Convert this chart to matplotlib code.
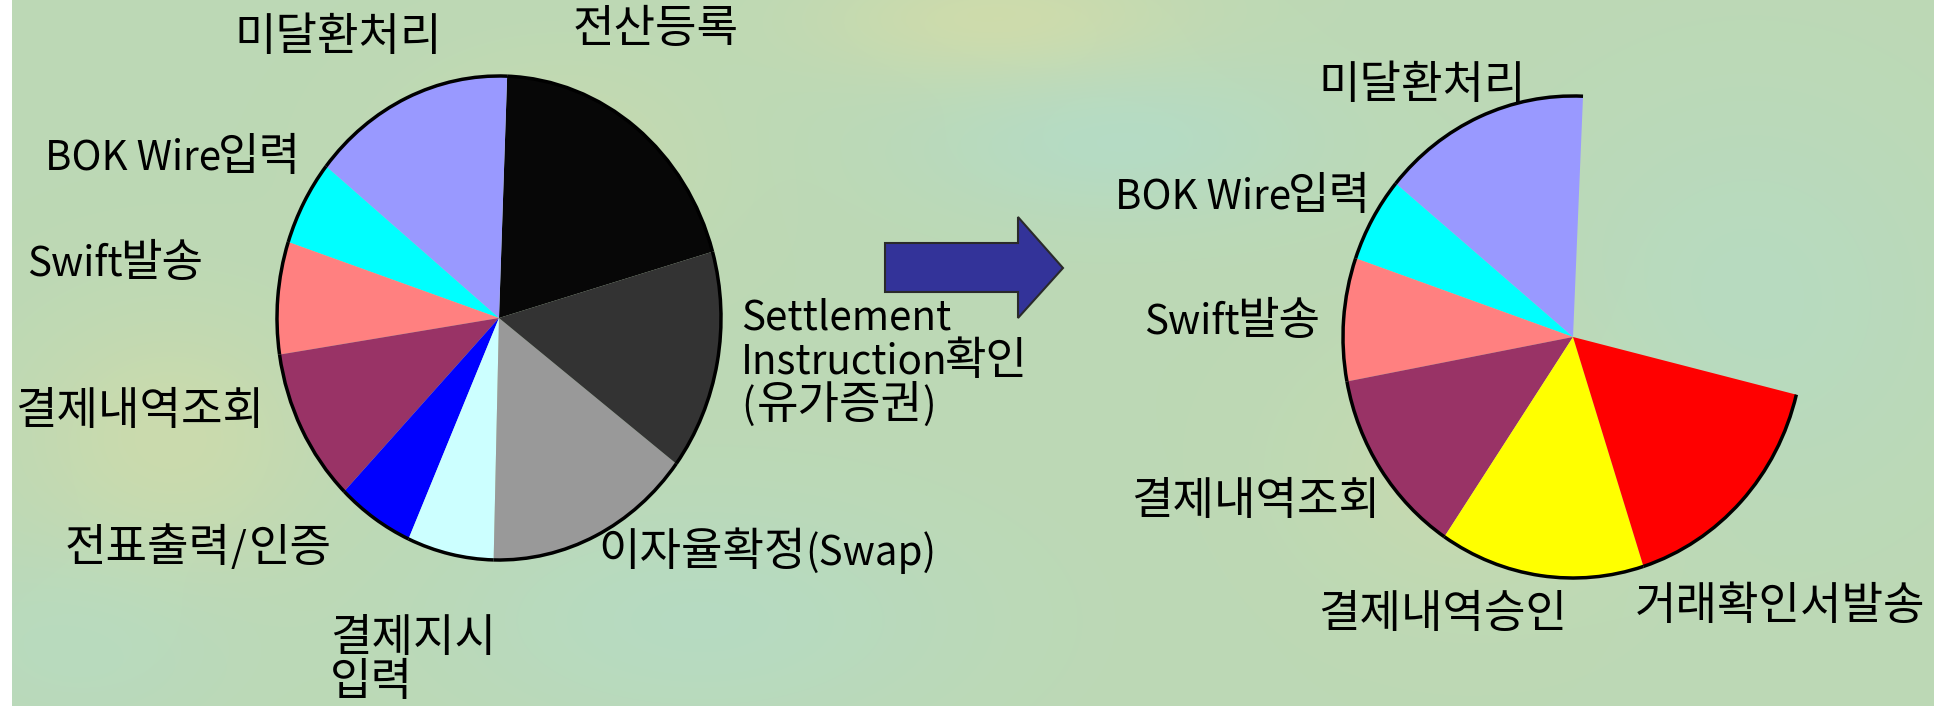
import numpy as np
import matplotlib.pyplot as plt
from matplotlib.patches import Arc, Polygon

plt.rcParams['font.family'] = ['Noto Sans CJK KR', 'DejaVu Sans']

W, H = 1954, 706

# before: share of work per task (%), counter-clockwise from startangle
left_labels = ['전산등록', '미달환처리', 'BOK Wire입력', 'Swift발송', '결제내역조회',
               '전표출력/인증', '결제지시\n입력', '이자율확정(Swap)',
               'Settlement\nInstruction확인\n(유가증권)']
left_values = [20.0, 14.8, 5.7, 7.5, 10.3, 5.6, 6.3, 15.1, 14.7]
left_colors = ['#070707', '#9999ff', '#00ffff', '#ff8080', '#993366',
               '#0000ff', '#ccffff', '#999999', '#333333']

# after: remaining tasks, the rest of the circle stays empty
right_labels = ['미달환처리', 'BOK Wire입력', 'Swift발송', '결제내역조회',
                '결제내역승인', '거래확인서발송']
right_values = [14.7, 5.7, 8.25, 12.6, 14.4, 16.2]
right_colors = ['#9999ff', '#00ffff', '#ff8080', '#993366', '#ffff00', '#ff0000']

# label anchors in pixels (left edge, centre of first line)
left_label_pos = [(573, 29), (234, 37), (45, 157), (27, 263), (15, 411),
                  (65, 548), (330, 638), (598, 552), (741, 317)]
right_label_pos = [(1318, 85), (1115, 196), (1144, 321), (1131, 501),
                   (1318, 614), (1635, 606)]

fig = plt.figure(figsize=(W/100, H/100), dpi=100)
fig.patch.set_facecolor('white')

# background wash
bg = fig.add_axes([12/W, 0, (1934-12)/W, 1])
yy, xx = np.mgrid[0:H, 12:1934]
def blob(x0, y0, sx, sy):
    return np.exp(-((xx-x0)/sx)**2 - ((yy-y0)/sy)**2)
yel = blob(1000, 20, 180, 60) + 0.8*blob(170, 440, 140, 120) + 0.6*blob(1480, 470, 160, 120) + 0.5*blob(560, 160, 150, 100)
cya = blob(1120, 140, 200, 80) + 0.8*blob(700, 620, 260, 120) + 0.7*blob(1750, 300, 200, 200) + 0.6*blob(80, 640, 160, 100)
img = np.zeros((H, xx.shape[1], 3))
base = np.array([0.74, 0.85, 0.71])
for k in range(3):
    img[..., k] = base[k] + yel*[0.07, 0.01, -0.04][k] + cya*[-0.03, 0.01, 0.06][k]
bg.imshow(np.clip(img, 0, 1), aspect='auto', extent=(12, 1934, H, 0))
bg.axis('off')


def draw_pie(cx, cy, rx, ry, values, colors, start, normalize):
    ax = fig.add_axes([(cx-rx)/W, 1-(cy+ry)/H, 2*rx/W, 2*ry/H])
    vals = np.array(values) / 100.0
    wedges, _ = ax.pie(vals, colors=colors, startangle=start, normalize=normalize,
                       wedgeprops=dict(linewidth=0))
    ax.set_aspect('auto')
    ax.set_xlim(-1, 1)
    ax.set_ylim(-1, 1)
    ax.axis('off')
    # outline only along the rim
    for w in wedges:
        ax.add_patch(Arc((0, 0), 2, 2, theta1=w.theta1, theta2=w.theta2,
                         color='black', lw=2.5, clip_on=False))
    return ax


draw_pie(499, 318, 222, 242, left_values, left_colors, 15.9, True)
draw_pie(1573, 337, 230, 241, right_values, right_colors, 87.5, False)

renderer = fig.canvas.get_renderer()


def runs(s):
    # split into hangul / other runs, hangul is set a bit larger
    out = []
    for ch in s:
        k = '\uac00' <= ch <= '\ud7a3'
        if out and out[-1][0] == k:
            out[-1][1] += ch
        else:
            out.append([k, ch])
    return out


def put_labels(labels, pos):
    for s, (x, y) in zip(labels, pos):
        for i, line in enumerate(s.split('\n')):
            cur = x
            base_y = y + 44*i + 13
            for hangul, part in runs(line):
                t = fig.text(cur/W, 1-base_y/H, part, ha='left', va='baseline',
                             fontsize=32.5 if hangul else 29, color='black')
                gap = 0 if hangul else (-3 if part[-1].isalpha() else 2)
                cur += t.get_window_extent(renderer).width + gap


put_labels(left_labels, left_label_pos)
put_labels(right_labels, right_label_pos)

# arrow between the two pies
ov = fig.add_axes([0, 0, 1, 1])
ov.set_xlim(0, W)
ov.set_ylim(H, 0)
ov.axis('off')
arrow = [(885, 243), (1018, 243), (1018, 217), (1063, 268),
         (1018, 318), (1018, 292), (885, 292)]
ov.add_patch(Polygon(arrow, closed=True, facecolor='#333399',
                     edgecolor='#2a2a2a', lw=1.5))

fig.savefig('out.png', dpi=100)
